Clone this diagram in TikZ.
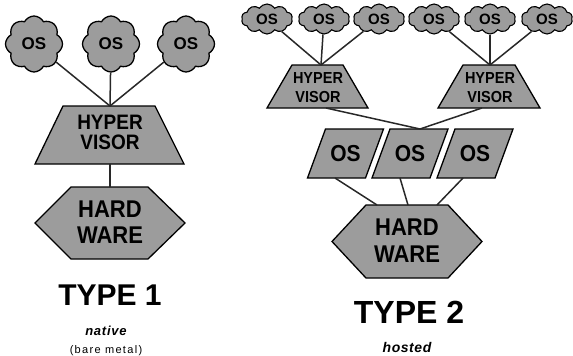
\documentclass[tikz,border=0pt]{standalone}
\usepackage{fontspec}
\usepackage{graphicx}
\setmainfont{Liberation Sans}
\usetikzlibrary{shapes.symbols}
\definecolor{boxgray}{RGB}{156,156,156}
\definecolor{wire}{RGB}{40,40,40}

% slightly condensed look for the block captions
\newcommand{\tallword}[1]{\scalebox{1}[1.1]{#1}}

\tikzset{
  shapeline/.style={draw=black, line width=1.3pt, fill=boxgray, line join=miter},
  wireline/.style={draw=wire, line width=1.5pt},
  bigcloud/.style={cloud, cloud puffs=8, cloud puff arc=125, cloud ignores aspect,
    minimum width=57pt, minimum height=56pt, inner sep=0pt, shapeline,
    font=\bfseries\fontsize{17}{17}\selectfont},
  smallcloud/.style={cloud, cloud puffs=10, cloud puff arc=115, cloud ignores aspect,
    minimum width=51pt, minimum height=30pt, inner sep=0pt, shapeline, line width=1.1pt,
    font=\bfseries\fontsize{15}{15}\selectfont},
  lbl/.style={inner sep=0pt},
  cap1/.style={lbl, font=\bfseries\fontsize{19}{19}\selectfont},
  cap2/.style={lbl, font=\bfseries\fontsize{14.5}{14.5}\selectfont},
  hwcap/.style={lbl, font=\bfseries\fontsize{22}{22}\selectfont},
}

\begin{document}
\begin{tikzpicture}[x=1pt,y=-1pt]
\useasboundingbox (0,0) rectangle (573,356);

% ---------------- Type 1: bare metal ----------------
\node[bigcloud] (t1os1) at (34,44) {OS};
\node[bigcloud] (t1os2) at (111,44) {OS};
\node[bigcloud] (t1os3) at (186,44) {OS};

% hypervisor trapezoid
\draw[shapeline] (35,164) -- (63,106) -- (155,106) -- (184,164) -- cycle;
\coordinate (hv1-top) at (110,106);
\coordinate (hv1-bot) at (110,164);
\node[cap1] (hv1a) at (110,122.5) {\tallword{HYPER}};
\node[cap1] (hv1b) at (110,142.5) {\tallword{VISOR}};

% hardware hexagon
\draw[shapeline] (35,223) -- (71,187) -- (148,187) -- (185,223) -- (148,259) -- (71,259) -- cycle;
\coordinate (hw1-top) at (110,187);
\node[hwcap] (hw1a) at (110,209.5) {\tallword{HARD}};
\node[hwcap] (hw1b) at (110,235.5) {\tallword{WARE}};

\draw[wireline] (t1os1) -- (hv1-top);
\draw[wireline] (t1os2) -- (hv1-top);
\draw[wireline] (t1os3) -- (hv1-top);
\draw[wireline] (hv1-bot) -- (hw1-top);

\node[lbl, font=\bfseries\fontsize{30}{30}\selectfont] (type1) at (110,295.5) {TYPE 1};
\node[lbl, anchor=base, font=\bfseries\itshape\fontsize{13}{13}\selectfont\addfontfeatures{LetterSpace=6}] (native) at (106,335) {native};
\node[lbl, anchor=base, font=\fontsize{11}{11}\selectfont\addfontfeatures{LetterSpace=12}] (bare) at (106,353) {(bare metal)};

% ---------------- Type 2: hosted ----------------
\node[smallcloud] (t2os1) at (267,19) {OS};
\node[smallcloud] (t2os2) at (324,19) {OS};
\node[smallcloud] (t2os3) at (379,19) {OS};
\node[smallcloud] (t2os4) at (434,19) {OS};
\node[smallcloud] (t2os5) at (490,19) {OS};
\node[smallcloud] (t2os6) at (547,19) {OS};

% two hosted hypervisors
\draw[shapeline] (267,108) -- (292,65) -- (343,65) -- (368,108) -- cycle;
\coordinate (hv2a-top) at (321,65);
\coordinate (hv2a-out) at (326,108);
\node[cap2] (hv2aa) at (318,78.5) {\tallword{HYPER}};
\node[cap2] (hv2ab) at (318,97.5) {\tallword{VISOR}};

\draw[shapeline] (438,108) -- (463,65) -- (515,65) -- (540,108) -- cycle;
\coordinate (hv2b-top) at (490,65);
\coordinate (hv2b-out) at (482,108);
\node[cap2] (hv2ba) at (490,78.5) {\tallword{HYPER}};
\node[cap2] (hv2bb) at (490,97.5) {\tallword{VISOR}};

\draw[wireline] (t2os1) -- (hv2a-top);
\draw[wireline] (t2os2) -- (hv2a-top);
\draw[wireline] (t2os3) -- (hv2a-top);
\draw[wireline] (t2os4) -- (hv2b-top);
\draw[wireline] (t2os5) -- (hv2b-top);
\draw[wireline] (t2os6) -- (hv2b-top);

% host operating systems
\foreach \n/\cx in {1/345.5, 2/410, 3/475} {
  \draw[shapeline] (\cx-20,129) -- (\cx+38,129) -- (\cx+20,178) -- (\cx-38,178) -- cycle;
  \node[lbl, font=\bfseries\fontsize{21}{21}\selectfont] (p\n) at (\cx,153.5) {\tallword{OS}};
}
\coordinate (p2-in) at (420,129);
\coordinate (p1-out) at (335,178);
\coordinate (p2-out) at (400,178);
\coordinate (p3-out) at (463,178);

\draw[wireline] (hv2a-out) -- (p2-in);
\draw[wireline] (hv2b-out) -- (p2-in);

% hardware hexagon
\draw[shapeline] (332,241.5) -- (366,205) -- (448,205) -- (482,241.5) -- (448,278) -- (366,278) -- cycle;
\coordinate (hw2-a) at (377,205);
\coordinate (hw2-b) at (408,205);
\coordinate (hw2-c) at (437,205);
\node[hwcap] (hw2a) at (407,227.5) {\tallword{HARD}};
\node[hwcap] (hw2b) at (407,254.5) {\tallword{WARE}};

\draw[wireline] (p1-out) -- (hw2-a);
\draw[wireline] (p2-out) -- (hw2-b);
\draw[wireline] (p3-out) -- (hw2-c);

\node[lbl, font=\bfseries\fontsize{32}{32}\selectfont] (type2) at (409,312.5) {TYPE 2};
\node[lbl, anchor=base, font=\bfseries\itshape\fontsize{14}{14}\selectfont\addfontfeatures{LetterSpace=4}] (hosted) at (407,352) {hosted};
\end{tikzpicture}
\end{document}
